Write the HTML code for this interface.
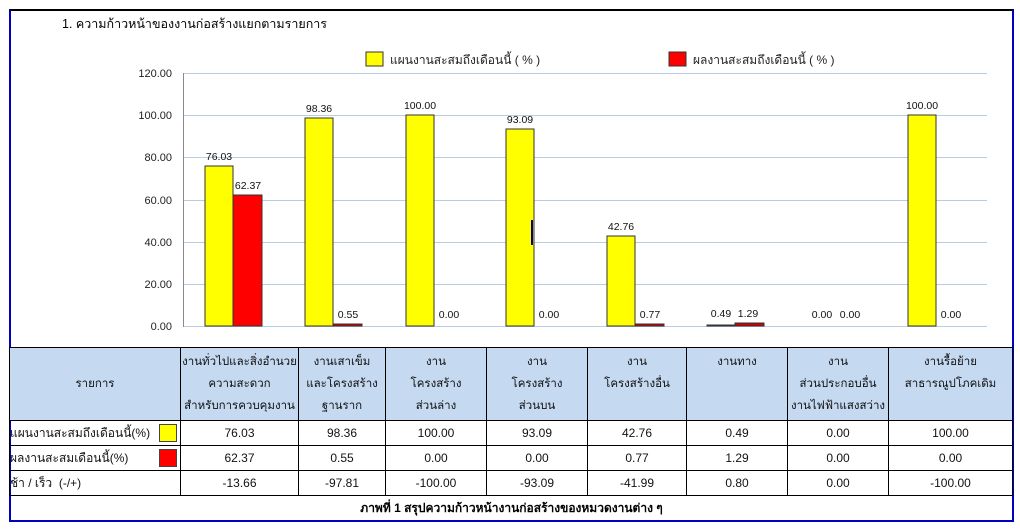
<!DOCTYPE html>
<html><head><meta charset="utf-8"><style>
body{margin:0;width:1020px;height:530px;background:#fff;position:relative;font-family:"Liberation Sans","Noto Sans CJK SC",sans-serif;overflow:hidden}
.frame{position:absolute;left:9px;top:9px;width:1001px;height:509px;border:2px solid #0000c0;border-top-color:#000}
svg{position:absolute;left:0;top:0}
table{position:absolute;left:9px;top:347px;border-collapse:collapse;font-size:12px;color:#111}
td{border:1px solid #000;text-align:center;padding:0;height:24px}
tr.h td{background:#c5d9f1;height:72px;line-height:22px;font-size:11.5px;vertical-align:middle}
td.l{text-align:left;position:relative}
.sw{position:absolute;right:3px;top:3px;width:16px;height:16px;border:1px solid #444}
.cap{position:absolute;left:11px;top:498px;width:1001px;text-align:center;font-size:12px;font-weight:bold;line-height:20px}
</style></head><body>
<div class="frame"></div>
<svg width="1020" height="530" font-family="Liberation Sans, Noto Sans CJK SC, sans-serif" font-size="11">
<text x="62" y="28" font-size="12.5" fill="#000">1. ความก้าวหน้าของงานก่อสร้างแยกตามรายการ</text>
<rect x="366" y="52" width="17" height="14" fill="#ff0" stroke="#333"/>
<text x="390" y="64" font-size="12" fill="#222">แผนงานสะสมถึงเดือนนี้ ( % )</text>
<rect x="669" y="52" width="17" height="14" fill="#f00" stroke="#333"/>
<text x="693" y="64" font-size="12" fill="#222">ผลงานสะสมถึงเดือนนี้ ( % )</text>
<g stroke="#b8cce4" stroke-width="1">
<line x1="183" y1="73.5" x2="987" y2="73.5"/><line x1="183" y1="115.5" x2="987" y2="115.5"/>
<line x1="183" y1="157.5" x2="987" y2="157.5"/><line x1="183" y1="200.5" x2="987" y2="200.5"/>
<line x1="183" y1="242.5" x2="987" y2="242.5"/><line x1="183" y1="284.5" x2="987" y2="284.5"/>
<line x1="183" y1="326.5" x2="987" y2="326.5"/>
</g>
<line x1="183.5" y1="73" x2="183.5" y2="327" stroke="#888"/>
<g fill="#222" text-anchor="end" font-size="11">
<text x="172" y="77">120.00</text><text x="172" y="119">100.00</text><text x="172" y="161">80.00</text>
<text x="172" y="204">60.00</text><text x="172" y="246">40.00</text><text x="172" y="288">20.00</text><text x="172" y="330">0.00</text>
</g>
<g stroke="#333" stroke-width="1">
<rect x="205" y="166" width="28" height="160" fill="#ff0"/>
<rect x="233" y="195" width="29" height="131" fill="#f00"/>
<rect x="305" y="118" width="28" height="208" fill="#ff0"/>
<rect x="333" y="324" width="29" height="2" fill="#c00"/>
<rect x="406" y="115" width="28" height="211" fill="#ff0"/>
<rect x="506" y="129" width="28" height="197" fill="#ff0"/>
<rect x="607" y="236" width="28" height="90" fill="#ff0"/>
<rect x="635" y="324" width="29" height="2" fill="#c00"/>
<rect x="707" y="325" width="28" height="1" fill="#ff0"/>
<rect x="735" y="323" width="29" height="3" fill="#c00"/>
<rect x="908" y="115" width="28" height="211" fill="#ff0"/>
</g>
<line x1="532" y1="220" x2="532" y2="245" stroke="#00008b" stroke-width="2"/>
<g fill="#111" text-anchor="middle" font-size="10.5">
<text x="219" y="160">76.03</text><text x="248" y="189">62.37</text>
<text x="319" y="112">98.36</text><text x="348" y="318">0.55</text>
<text x="420" y="109">100.00</text><text x="449" y="318">0.00</text>
<text x="520" y="123">93.09</text><text x="549" y="318">0.00</text>
<text x="621" y="230">42.76</text><text x="650" y="318">0.77</text>
<text x="721" y="317">0.49</text><text x="748" y="317">1.29</text>
<text x="822" y="318">0.00</text><text x="850" y="318">0.00</text>
<text x="922" y="109">100.00</text><text x="951" y="318">0.00</text>
</g>
</svg>
<table>
<colgroup><col style="width:171px"><col style="width:118px"><col style="width:87px"><col style="width:101px"><col style="width:101px"><col style="width:99px"><col style="width:101px"><col style="width:101px"><col style="width:124px"></colgroup>
<tr class="h"><td>รายการ</td><td>งานทั่วไปและสิ่งอำนวย<br>ความสะดวก<br>สำหรับการควบคุมงาน</td><td>งานเสาเข็ม<br>และโครงสร้าง<br>ฐานราก</td><td>งาน<br>โครงสร้าง<br>ส่วนล่าง</td><td>งาน<br>โครงสร้าง<br>ส่วนบน</td><td>งาน<br>โครงสร้างอื่น<br>&nbsp;</td><td>งานทาง<br>&nbsp;<br>&nbsp;</td><td>งาน<br>ส่วนประกอบอื่น<br>งานไฟฟ้าแสงสว่าง</td><td>งานรื้อย้าย<br>สาธารณูปโภคเดิม<br>&nbsp;</td></tr>
<tr><td class="l">แผนงานสะสมถึงเดือนนี้(%)<span class="sw" style="background:#ff0"></span></td><td>76.03</td><td>98.36</td><td>100.00</td><td>93.09</td><td>42.76</td><td>0.49</td><td>0.00</td><td>100.00</td></tr>
<tr><td class="l">ผลงานสะสมเดือนนี้(%)<span class="sw" style="background:#f00"></span></td><td>62.37</td><td>0.55</td><td>0.00</td><td>0.00</td><td>0.77</td><td>1.29</td><td>0.00</td><td>0.00</td></tr>
<tr><td class="l">ช้า / เร็ว &nbsp;(-/+)</td><td>-13.66</td><td>-97.81</td><td>-100.00</td><td>-93.09</td><td>-41.99</td><td>0.80</td><td>0.00</td><td>-100.00</td></tr>
</table>
<div class="cap">ภาพที่ 1 สรุปความก้าวหน้างานก่อสร้างของหมวดงานต่าง ๆ</div>
</body></html>
